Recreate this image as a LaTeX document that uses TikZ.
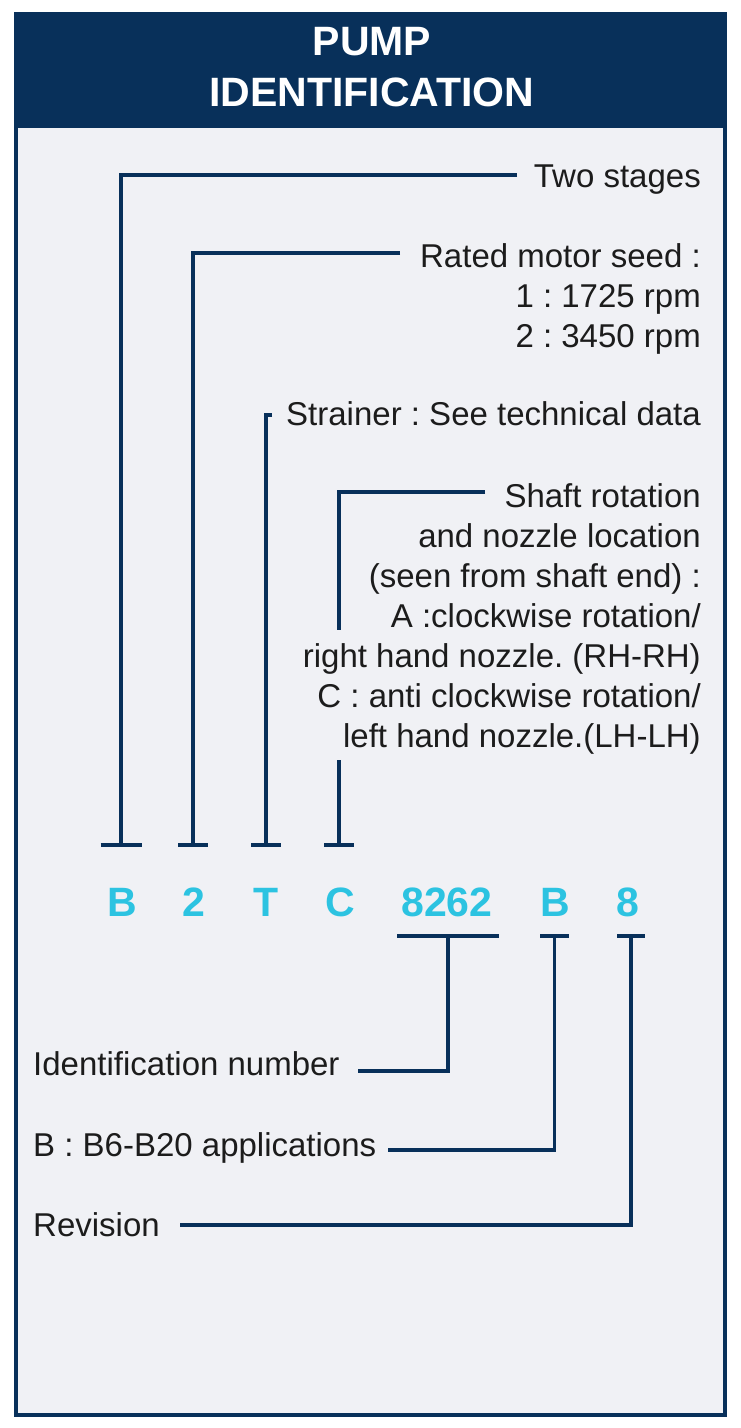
\documentclass[tikz,border=0pt]{standalone}
\usepackage{fontspec}
\setmainfont{Liberation Sans}
\definecolor{navy}{HTML}{08305A}
\definecolor{cyanl}{HTML}{2CC3E1}
\definecolor{bgpanel}{HTML}{F0F1F5}
\definecolor{ink}{HTML}{1C1C1C}
\frenchspacing
\begin{document}
\frenchspacing
\begin{tikzpicture}[x=1pt,y=-1pt,
  conn/.style={draw=navy,line width=3.5pt,line join=miter},
  lab/.style={text=ink,font=\fontsize{33}{40}\selectfont\frenchspacing,inner sep=0pt},
  codeletter/.style={text=cyanl,font=\fontsize{41}{41}\selectfont\bfseries,inner sep=0pt,anchor=base},
  titletext/.style={text=white,font=\fontsize{41}{41}\selectfont\bfseries,inner sep=0pt,anchor=base}]
\useasboundingbox (0,0) rectangle (740,1428);
\fill[white] (0,0) rectangle (740,1428);
\fill[bgpanel] (14,12) rectangle (727,1417);
\fill[navy] (14,12) rectangle (727,128);
\draw[navy,line width=4pt] (16,14) rectangle (725,1415);
% title
\node[titletext] (t1) at (372,55) {PUMP};
\node[titletext] (t2) at (372,106) {IDENTIFICATION};
% code letters
\node[codeletter] (cB)  at (122,916) {B};
\node[codeletter] (c2)  at (194,916) {2};
\node[codeletter] (cT)  at (266,916) {T};
\node[codeletter] (cC)  at (340,916) {C};
\node[codeletter] (cN)  at (447,916) {8262};
\node[codeletter] (cB2) at (555,916) {B};
\node[codeletter] (c8)  at (628,916) {8};
% top labels
\node[lab,anchor=base east] (lTwo) at (701,187) {Two stages};
\node[lab,anchor=base east] (lR1) at (701,267) {Rated motor seed :};
\node[lab,anchor=base east] (lR2) at (701,307) {1 : 1725 rpm};
\node[lab,anchor=base east] (lR3) at (701,347) {2 : 3450 rpm};
\node[lab,anchor=base east] (lS) at (701,425) {Strainer : See technical data};
\node[lab,anchor=base east] (lH1) at (701,507) {Shaft rotation};
\node[lab,anchor=base east] (lH2) at (701,547) {and nozzle location};
\node[lab,anchor=base east] (lH3) at (701,587) {(seen from shaft end) :};
\node[lab,anchor=base east] (lH4) at (701,627) {A :clockwise rotation/};
\node[lab,anchor=base east] (lH5) at (701,667) {right hand nozzle. (RH-RH)};
\node[lab,anchor=base east] (lH6) at (701,707) {C : anti clockwise rotation/};
\node[lab,anchor=base east] (lH7) at (701,747) {left hand nozzle.(LH-LH)};
% bottom labels
\node[lab,anchor=base west] (lId) at (33,1075) {Identification number};
\node[lab,anchor=base west] (lApp) at (33,1156) {B : B6-B20 applications};
\node[lab,anchor=base west] (lRev) at (33,1236) {Revision};
% connector coordinates
\coordinate (eTwo) at (517,175);
\coordinate (fB) at (121,845);
\coordinate (eR) at (400,253);
\coordinate (f2) at (193,845);
\coordinate (eS) at (272,415);
\coordinate (fT) at (266,845);
\coordinate (eH) at (485,492);
\coordinate (gC) at (339,630);
\coordinate (hC) at (339,760);
\coordinate (fC) at (339,845);
\coordinate (eId) at (358,1071);
\coordinate (fN) at (448,936);
\coordinate (eApp) at (388,1150);
\coordinate (fB2) at (554.5,936);
\coordinate (eRev) at (180,1225);
\coordinate (f8) at (631,936);
% top connectors
\draw[conn] (eTwo) -| (fB);
\draw[conn] ([xshift=-20.5pt]fB) -- ([xshift=20.5pt]fB);
\draw[conn] (eR) -| (f2);
\draw[conn] ([xshift=-15pt]f2) -- ([xshift=15pt]f2);
\draw[conn] (eS) -| (fT);
\draw[conn] ([xshift=-15pt]fT) -- ([xshift=15pt]fT);
\draw[conn] (eH) -| (gC);
\draw[conn] (hC) -- (fC);
\draw[conn] ([xshift=-15pt]fC) -- ([xshift=15pt]fC);
% bottom connectors
\draw[conn] ([xshift=-51pt]fN) -- ([xshift=51pt]fN);
\draw[conn] (fN) |- (eId);
\draw[conn] ([xshift=-14.5pt]fB2) -- ([xshift=14.5pt]fB2);
\draw[conn] (fB2) |- (eApp);
\draw[conn] ([xshift=-14pt]f8) -- ([xshift=14pt]f8);
\draw[conn] (f8) |- (eRev);
\end{tikzpicture}
\end{document}
